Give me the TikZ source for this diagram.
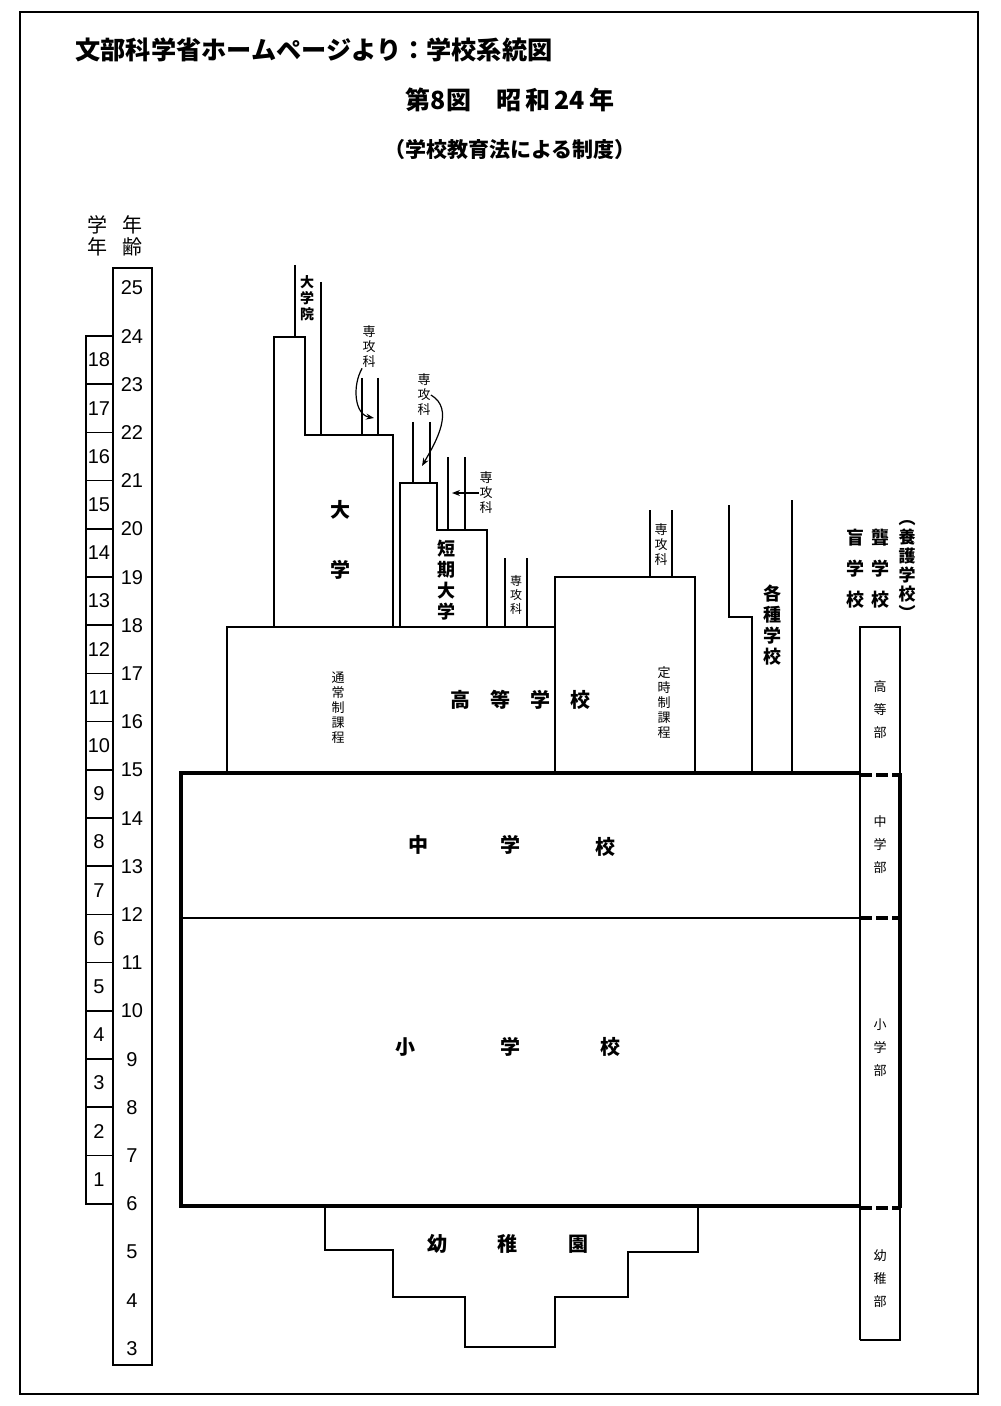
\documentclass[tikz,border=0pt]{standalone}
\usepackage{fontspec}
\setmainfont{Liberation Sans}
\newfontfamily\cjk{Noto Sans CJK JP}
\usetikzlibrary{arrows.meta}
\tikzset{
 thin/.style={line width=0.8pt},
 thick2/.style={line width=2pt},
 big/.style={font=\cjk\fontsize{10}{10}\selectfont\bfseries, inner sep=0pt},
 small/.style={font=\cjk\fontsize{6.5}{7.5}\selectfont, inner sep=0pt, align=center},
 vert/.style={font=\cjk\fontsize{9}{10.5}\selectfont\bfseries, inner sep=0pt, align=center},
 num/.style={font=\fontsize{10}{10}\selectfont, inner sep=0pt},
 arr/.style={-{Stealth[length=4pt]}, line width=0.6pt}
}
\begin{document}
\begin{tikzpicture}[x=0.5pt,y=-0.5pt]
\useasboundingbox (0,0) rectangle (1000,1406);
\fill[white] (0,0) rectangle (1000,1406);
\draw[thin] (20,12) rectangle (978,1394);
% titles
\node[anchor=west, font=\cjk\fontsize{12.6}{12.6}\selectfont\bfseries, inner sep=0pt] (title) at (75,50) {文部科学省ホームページより：学校系統図};
\node[font=\cjk\fontsize{12.5}{12.5}\selectfont\bfseries, inner sep=0pt] (fig) at (510,100) {第8図\quad 昭\,和\,24\,年};
\node[font=\cjk\fontsize{10.5}{10.5}\selectfont\bfseries, inner sep=0pt] (sub) at (510,150) {（学校教育法による制度）};
% scale headings
\node[vert, font=\cjk\fontsize{10}{11}\selectfont] (hg) at (97,236) {学\\年};
\node[vert, font=\cjk\fontsize{10}{11}\selectfont] (ha) at (132,236) {年\\齢};
% age column
\draw[thin] (113,268) rectangle (152,1365);
\foreach \a in {3,...,25} {
  \node[num] (age\a) at (132,{288+(25-\a)*48.2}) {\a};
}
% grade column
\draw[thin] (86,336) rectangle (113,1204);
\foreach \k in {1,...,17} { \draw[thin] (86,{336+\k*48.2}) -- (113,{336+\k*48.2}); }
\foreach \g in {1,...,18} {
  \node[num] (gr\g) at (99,{336+(18-\g)*48.2+24}) {\g};
}
% university
\draw[thin] (274,627) -- (274,337) -- (305,337) -- (305,435) -- (393,435) -- (393,627);
\draw[thin] (295,265) -- (295,337);
\draw[thin] (321,282) -- (321,435);
\node[small, font=\cjk\fontsize{7}{8}\selectfont\bfseries] (daigakuin) at (307,298) {大\\学\\院};
\draw[thin] (362,378) -- (362,435);
\draw[thin] (378,378) -- (378,435);
\node[small] (sk1) at (369,347) {専\\攻\\科};
\coordinate (sk1e) at (374,418);
\draw[arr] (sk1.south west) to[out=240,in=170] (sk1e);
\node[big] (dai1) at (340,510) {大};
\node[big] (dai2) at (340,570) {学};
% junior college
\draw[thin] (400,627) -- (400,483) -- (437,483) -- (437,530) -- (487,530) -- (487,627);
\draw[thin] (413,422) -- (413,483);
\draw[thin] (430,422) -- (430,483);
\node[small] (sk2) at (424,395) {専\\攻\\科};
\coordinate (sk2e) at (422,466);
\draw[arr] (sk2.east) to[out=-30,in=60] (sk2e);
\draw[thin] (448,457) -- (448,530);
\draw[thin] (465,457) -- (465,530);
\node[small] (sk3) at (486,493) {専\\攻\\科};
\coordinate (sk3e) at (452,493);
\draw[arr] (sk3.west) -- (sk3e);
\node[vert] (tanki) at (446,580) {短\\期\\大\\学};
% small senkouka
\draw[thin] (505,558) -- (505,627);
\draw[thin] (527,558) -- (527,627);
\node[small, font=\cjk\fontsize{6}{7}\selectfont] (sk4) at (516,595) {専\\攻\\科};
% high school
\draw[thin] (227,773) -- (227,627) -- (555,627);
\draw[thin] (555,773) -- (555,577) -- (695,577) -- (695,773);
\draw[thin, dashed] (555,627) -- (555,773);
\node[small] (tsujo) at (338,708) {通\\常\\制\\課\\程};
\node[big] (k1) at (460,700) {高};
\node[big] (k2) at (500,700) {等};
\node[big] (k3) at (540,700) {学};
\node[big] (k4) at (580,700) {校};
\node[small] (teiji) at (664,703) {定\\時\\制\\課\\程};
\draw[thin] (650,510) -- (650,577);
\draw[thin] (672,510) -- (672,577);
\node[small] (sk5) at (661,545) {専\\攻\\科};
% kakushu
\draw[thin] (729,505) -- (729,617) -- (752,617) -- (752,773);
\draw[line width=1.1pt] (792,500) -- (792,773);
\node[vert] (kakushu) at (772,625) {各\\種\\学\\校};
% special schools
\node[vert] (mou) at (855,569) {盲\\[5pt]学\\[5pt]校};
\node[vert] (rou) at (880,569) {聾\\[5pt]学\\[5pt]校};
\node[vert, font=\cjk\fontsize{8.5}{9.5}\selectfont\bfseries] (yougo) at (907,570) {︵\\養\\護\\学\\校\\︶};
\draw[thin] (860,1340) -- (860,627) -- (900,627) -- (900,773);
\draw[thin] (900,1208) -- (900,1340) -- (860,1340);
\foreach \y/\n in {775/a,918/b,1208/c} { \draw[thick2, dash pattern=on 6pt off 2pt] (860,\y) -- (900,\y); }
\node[small] (kotobu) at (880,710) {高\\[4pt]等\\[4pt]部};
\node[small] (chubu) at (880,845) {中\\[4pt]学\\[4pt]部};
\node[small] (shobu) at (880,1048) {小\\[4pt]学\\[4pt]部};
\node[small] (youbu) at (880,1279) {幼\\[4pt]稚\\[4pt]部};
% middle/primary
\draw[thick2] (860,773) -- (181,773) -- (181,1206) -- (860,1206);
\draw[thick2] (900,773) -- (900,1208);
\draw[thin] (181,918) -- (860,918);
\node[big] (c1) at (418,845) {中};
\node[big] (c2) at (510,845) {学};
\node[big] (c3) at (605,847) {校};
\node[big] (s1) at (405,1047) {小};
\node[big] (s2) at (510,1047) {学};
\node[big] (s3) at (610,1047) {校};
% kindergarten
\draw[thin] (325,1208) -- (325,1250) -- (393,1250) -- (393,1297) -- (465,1297) -- (465,1347) -- (555,1347) -- (555,1297) -- (628,1297) -- (628,1252) -- (698,1252) -- (698,1208);
\node[big] (y1) at (437,1244) {幼};
\node[big] (y2) at (507,1244) {稚};
\node[big] (y3) at (578,1244) {園};
\end{tikzpicture}
\end{document}
